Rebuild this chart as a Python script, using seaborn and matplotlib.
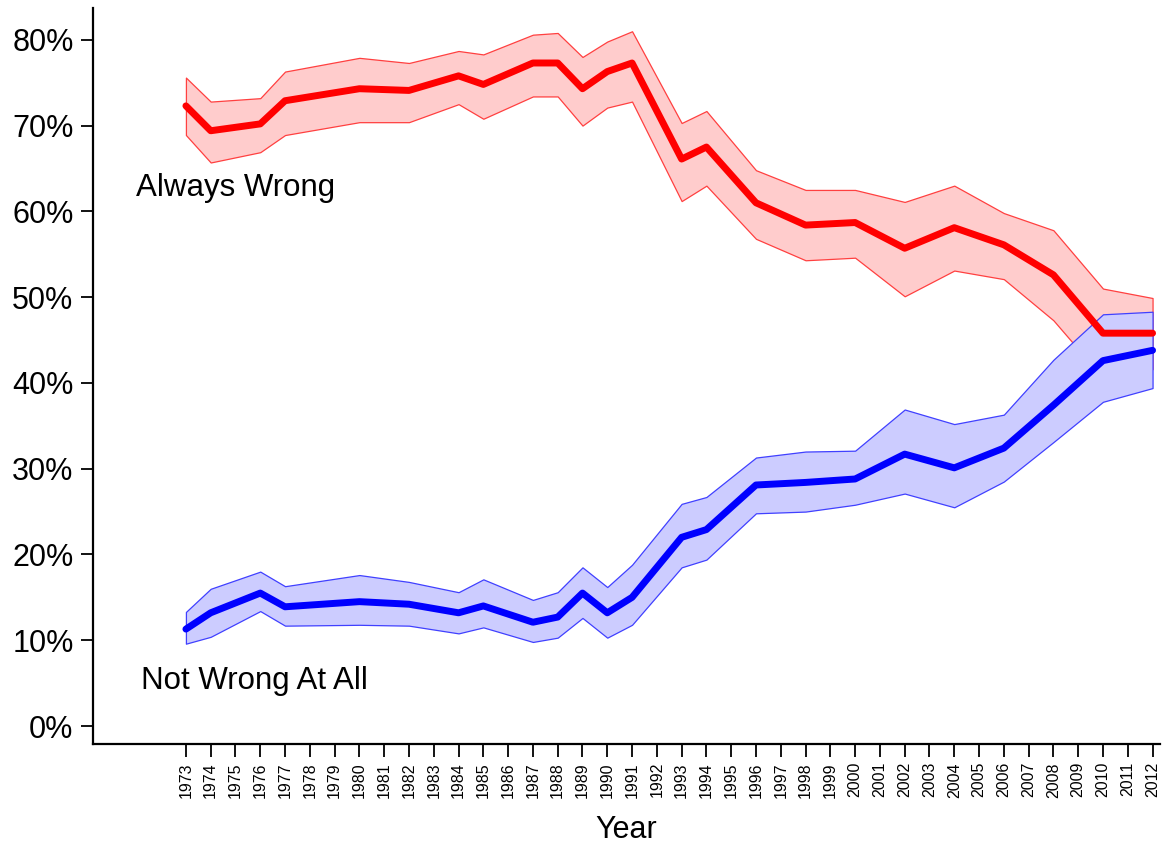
import matplotlib
matplotlib.use("Agg")
from matplotlib import pyplot as plt
import pandas as pd
import numpy as np
import seaborn as sns

# survey years and estimated shares (percent), with upper / lower band
years = [1973, 1974, 1976, 1977, 1980, 1982, 1984, 1985, 1987, 1988, 1989, 1990,
         1991, 1993, 1994, 1996, 1998, 2000, 2002, 2004, 2006, 2008, 2010, 2012]

always_wrong = [72.3, 69.4, 70.2, 72.9, 74.3, 74.1, 75.8, 74.8, 77.3, 77.3, 74.3, 76.3,
                77.3, 66.1, 67.5, 61.0, 58.4, 58.7, 55.7, 58.1, 56.1, 52.6, 45.8, 45.8]
always_hi = [75.6, 72.8, 73.2, 76.3, 77.9, 77.3, 78.7, 78.3, 80.6, 80.8, 78.0, 79.8,
             81.0, 70.3, 71.7, 64.8, 62.5, 62.5, 61.1, 63.0, 59.8, 57.8, 51.0, 49.9]
always_lo = [68.9, 65.7, 66.9, 68.9, 70.4, 70.4, 72.5, 70.8, 73.4, 73.4, 70.0, 72.1,
             72.8, 61.2, 63.0, 56.8, 54.3, 54.6, 50.1, 53.1, 52.1, 47.3, 40.6, 41.6]

not_wrong = [11.3, 13.2, 15.5, 13.9, 14.5, 14.2, 13.2, 14.0, 12.1, 12.7, 15.5, 13.2,
             15.0, 22.0, 22.9, 28.1, 28.4, 28.8, 31.7, 30.1, 32.4, 37.4, 42.6, 43.8]
not_wrong_hi = [13.3, 16.0, 18.0, 16.3, 17.6, 16.8, 15.6, 17.1, 14.7, 15.6, 18.5, 16.2,
                18.8, 25.9, 26.7, 31.3, 32.0, 32.1, 36.9, 35.2, 36.3, 42.7, 48.0, 48.3]
not_wrong_lo = [9.6, 10.4, 13.4, 11.7, 11.8, 11.7, 10.8, 11.5, 9.8, 10.3, 12.6, 10.3,
                11.8, 18.5, 19.4, 24.8, 25.0, 25.8, 27.1, 25.5, 28.5, 33.1, 37.8, 39.4]

tick_years = list(range(1973, 2013))
y_ticks = [0, 10, 20, 30, 40, 50, 60, 70, 80]

df = pd.DataFrame({'year': years, 'always': always_wrong, 'notwrong': not_wrong})

sns.set_style('ticks')
plt.rcParams['font.family'] = ['Liberation Sans', 'DejaVu Sans']
plt.rcParams['text.color'] = 'black'
plt.rcParams['axes.labelcolor'] = 'black'
plt.rcParams['xtick.color'] = 'black'
plt.rcParams['ytick.color'] = 'black'
plt.rcParams['axes.edgecolor'] = 'black'

fig = plt.figure(figsize=(11.71, 8.43), dpi=100)
ax = fig.add_axes([0.0794, 0.1174, 0.9112, 0.873])

# bands first, blue on top of red
ax.fill_between(years, always_lo, always_hi, facecolor='#ffcccc', edgecolor='#ff4040', linewidth=0.9)
ax.fill_between(years, not_wrong_lo, not_wrong_hi, facecolor='#ccccff', edgecolor='#4040ff', linewidth=0.9)

sns.lineplot(data=df, x='year', y='always', color='#ff0000', linewidth=5, ax=ax, legend=False)
sns.lineplot(data=df, x='year', y='notwrong', color='#0000ff', linewidth=5, ax=ax, legend=False)

ax.text(1971.0, 62.7, 'Always Wrong', fontsize=22.5, ha='left', va='center')
ax.text(1971.2, 5.2, 'Not Wrong At All', fontsize=22.5, ha='left', va='center')

ax.set_xlim(1969.25, 2012.3)
ax.set_ylim(-2.1, 83.7)
ax.set_xticks(tick_years)
ax.set_xticklabels([str(y) for y in tick_years], rotation=90, fontsize=11.5)
ax.set_yticks(y_ticks)
ax.set_yticklabels([f'{v}%' for v in y_ticks], fontsize=22)
ax.set_xlabel('Year', fontsize=22, labelpad=12)
ax.set_ylabel('')

sns.despine(ax=ax)
for s in ['left', 'bottom']:
    ax.spines[s].set_linewidth(1.6)
ax.tick_params(axis='both', length=9, width=1.3, color='black')
ax.tick_params(axis='y', pad=5)
ax.tick_params(axis='x', pad=4)

fig.savefig('out.png', dpi=100)
